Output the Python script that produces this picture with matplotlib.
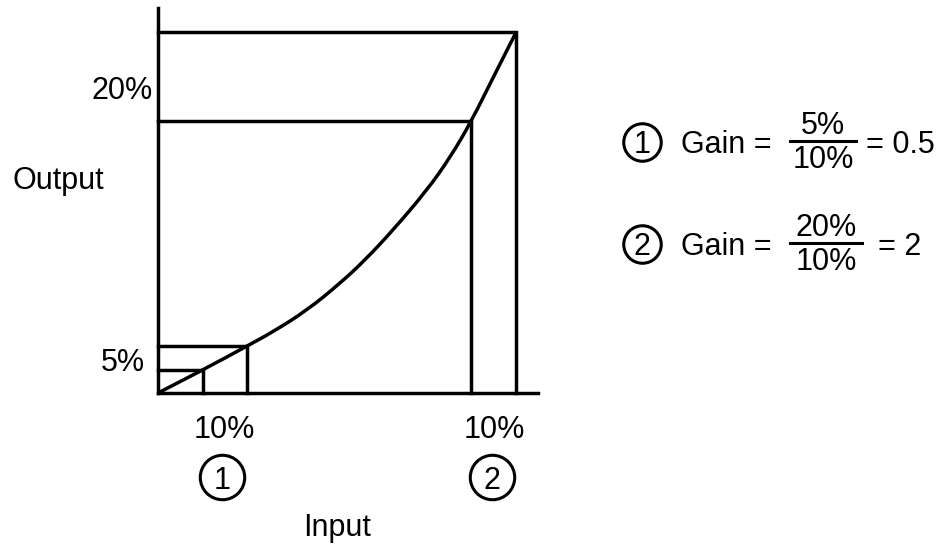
import matplotlib
matplotlib.use("Agg")
import matplotlib.pyplot as plt
from matplotlib.path import Path
from matplotlib.patches import PathPatch

plt.rcParams["font.family"] = ["Liberation Sans", "DejaVu Sans"]

# curve (input %, output %)
CURVE_IN = [0, 10, 19.8, 25.7, 33.3, 40.7, 46.3, 52.5, 60.1, 65.3, 70, 74.9, 80]
CURVE_OUT = [0, 5.1, 10.4, 13.6, 18.4, 24.4, 29.6, 36.2, 45.1, 52.4, 60.4, 70.2, 80.2]

# operating points marked with boxes
POINT_IN = [10, 19.8, 70, 80]
POINT_OUT = [5.1, 10.4, 60.4, 80.2]

X_MAX = 84.9
Y_MAX = 85.6

W, H = 941, 547
LW = 2.5
FS = 22


def fx(px):
    return px / W


def fy(py):
    return 1 - py / H


def smooth_path(xs, ys):
    # quadratic b-spline style path: read points as control points
    pts = list(zip(xs, ys))
    verts = [pts[0]]
    codes = [Path.MOVETO]
    for i in range(1, len(pts) - 1):
        nxt = pts[i + 1]
        end = nxt if i == len(pts) - 2 else ((pts[i][0] + nxt[0]) / 2, (pts[i][1] + nxt[1]) / 2)
        verts += [pts[i], end]
        codes += [Path.CURVE3, Path.CURVE3]
    return Path(verts, codes)


fig = plt.figure(figsize=(W / 100, H / 100), dpi=100)
ax = fig.add_axes([fx(158), fy(393), (538 - 158) / W, (393 - 8) / H])
ax.set_xlim(0, X_MAX)
ax.set_ylim(0, Y_MAX)
for side in ["top", "right"]:
    ax.spines[side].set_visible(False)
for side in ["left", "bottom"]:
    ax.spines[side].set_linewidth(LW)
ax.set_xticks([])
ax.set_yticks([])

ax.add_patch(PathPatch(smooth_path(CURVE_IN, CURVE_OUT), fill=False, edgecolor="black",
                       lw=LW, clip_on=False))
for x, y in zip(POINT_IN, POINT_OUT):
    ax.plot([0, x, x], [y, y, 0], color="black", lw=LW, solid_joinstyle="miter", clip_on=False)

# axis labels
fig.text(fx(153), fy(99), "20%", fontsize=FS, ha="right", va="baseline")
fig.text(fx(145), fy(371), "5%", fontsize=FS, ha="right", va="baseline")
fig.text(fx(12), fy(189), "Output", fontsize=FS, ha="left", va="baseline")
fig.text(fx(337), fy(536), "Input", fontsize=FS, ha="center", va="baseline")

# bottom interval labels with circled numbers
for num, cx in [("1", 224), ("2", 494)]:
    fig.text(fx(cx), fy(438), "10%", fontsize=FS, ha="center", va="baseline")
    fig.add_artist(plt.Line2D([fx(cx - 2)], [fy(477)], marker="o", ms=32, mfc="none",
                              mec="black", mew=2.2))
    fig.text(fx(cx - 2), fy(489), num, fontsize=FS, ha="center", va="baseline")

# gain equations
rows = [
    ("1", 142, "5%", "10%", "= 0.5", 790, 856, 866),
    ("2", 244, "20%", "10%", "= 2", 790, 862, 878),
]
for num, cy, top, bot, res, bar0, bar1, rx in rows:
    fig.add_artist(plt.Line2D([fx(642)], [fy(cy)], marker="o", ms=27, mfc="none",
                              mec="black", mew=2.2))
    fig.text(fx(642), fy(cy + 11), num, fontsize=FS, ha="center", va="baseline")
    fig.text(fx(681), fy(cy + 11), "Gain =", fontsize=FS, ha="left", va="baseline")
    mid = (bar0 + bar1) / 2
    fig.text(fx(mid), fy(cy - 8), top, fontsize=FS, ha="center", va="baseline")
    fig.add_artist(plt.Line2D([fx(bar0), fx(bar1)], [fy(cy - 1), fy(cy - 1)], color="black", lw=2.2))
    fig.text(fx(mid), fy(cy + 26), bot, fontsize=FS, ha="center", va="baseline")
    fig.text(fx(rx), fy(cy + 11), res, fontsize=FS, ha="left", va="baseline")

fig.savefig("out.png", dpi=100)
